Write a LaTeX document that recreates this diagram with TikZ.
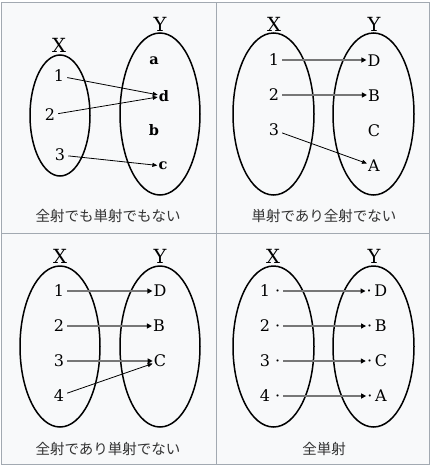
\documentclass[tikz,border=0pt]{standalone}
\usepackage{fontspec}
\setmainfont{DejaVu Serif}
\newfontfamily\jpfont{Noto Sans CJK JP}
\usetikzlibrary{arrows.meta}
\definecolor{panelbg}{HTML}{F8F9FA}
\definecolor{panelline}{HTML}{A2A9B1}
\definecolor{arrowgray}{HTML}{777777}
\definecolor{captext}{HTML}{333333}
\begin{document}
\begin{tikzpicture}[x=1pt,y=-1pt,
  setlabel/.style={font=\fontsize{19.5}{22}\selectfont, inner sep=0pt},
  elem/.style={font=\fontsize{16}{18}\selectfont, inner sep=1pt},
  belem/.style={font=\fontsize{14.5}{17}\selectfont\bfseries, inner sep=1pt},
  setellipse/.style={draw=black, line width=1.5pt},
  caption/.style={font=\jpfont\fontsize{14.5}{17}\selectfont, text=captext, inner sep=0pt},
  garrow/.style={draw=arrowgray, line width=1.8pt, -{Triangle[length=5pt,width=5pt,color=black]}, shorten <=2pt},
  barrow/.style={draw=black, line width=0.8pt, -{Triangle[length=5pt,width=4pt]}, shorten <=2pt}
]
\useasboundingbox (0,0) rectangle (431,466);
\fill[white] (0,0) rectangle (431,466);
\draw[panelline, fill=panelbg, line width=1pt] (1.5,2) rectangle (429.5,464);
\draw[panelline, line width=1pt] (216,2) -- (216,464);
\draw[panelline, line width=1pt] (1.5,233) -- (429.5,233);

% ---------- Panel 1 ----------
\draw[setellipse] (60,115.5) ellipse [x radius=30, y radius=60.5];
\draw[setellipse] (160,114) ellipse [x radius=40, y radius=81];
\node[setlabel] (aX) at (59,45) {X};
\node[setlabel] (aY) at (160,24) {Y};
\node[elem] (a1) at (59,76) {1};
\node[elem] (a2) at (50,115) {2};
\node[elem] (a3) at (60,155) {3};
\node[belem] (aa) at (154,61) {a};
\node[belem] (ad) at (164,96) {d};
\node[belem] (ab) at (154,130) {b};
\node[belem] (ac) at (163,166) {c};
\draw[barrow] (a1) -- (ad);
\draw[barrow] (a2) -- (ad);
\draw[barrow] (a3) -- (ac);
\node[caption] (acap) at (108,216) {全射でも単射でもない};

% ---------- Panel 2 ----------
\draw[setellipse] (273.5,114) ellipse [x radius=40.5, y radius=81];
\draw[setellipse] (373.5,114) ellipse [x radius=40.5, y radius=81];
\node[setlabel] (bX) at (274,24) {X};
\node[setlabel] (bY) at (374,24) {Y};
\node[elem] (b1) at (274,60) {1};
\node[elem] (b2) at (274,95) {2};
\node[elem] (b3) at (274,130) {3};
\node[elem] (bD) at (374,61) {D};
\node[elem] (bB) at (374,96) {B};
\node[elem] (bC) at (374,131) {C};
\node[elem] (bA) at (374,166) {A};
\draw[garrow] (b1) -- (b1 -| bD.west);
\draw[garrow] (b2) -- (b2 -| bB.west);
\draw[barrow] (b3) -- (bA);
\node[caption] (bcap) at (324,216) {単射であり全射でない};

% ---------- Panel 3 ----------
\draw[setellipse] (60,346.5) ellipse [x radius=40, y radius=80.5];
\draw[setellipse] (160,346.5) ellipse [x radius=40, y radius=80.5];
\node[setlabel] (cX) at (60,256) {X};
\node[setlabel] (cY) at (160,256) {Y};
\node[elem] (c1) at (59,291) {1};
\node[elem] (c2) at (59,326) {2};
\node[elem] (c3) at (59,361) {3};
\node[elem] (c4) at (59,396) {4};
\node[elem] (cD) at (160,291) {D};
\node[elem] (cB) at (159,326) {B};
\node[elem] (cC) at (160,361) {C};
\draw[garrow] (c1) -- (c1 -| cD.west);
\draw[garrow] (c2) -- (c2 -| cB.west);
\draw[garrow] (c3) -- (c3 -| cC.west);
\draw[barrow] (c4) -- (cC);
\node[caption] (ccap) at (108,449) {全射であり単射でない};

% ---------- Panel 4 ----------
\draw[setellipse] (273.5,346.5) ellipse [x radius=40.5, y radius=80.5];
\draw[setellipse] (373.5,346.5) ellipse [x radius=40.5, y radius=80.5];
\node[setlabel] (dX) at (273,256) {X};
\node[setlabel] (dY) at (374,256) {Y};
\node[elem] (d1) at (270,291) {1 ·};
\node[elem] (d2) at (270,326) {2 ·};
\node[elem] (d3) at (270,361) {3 ·};
\node[elem] (d4) at (270,396) {4 ·};
\node[elem] (dD) at (377,291) {·\,D};
\node[elem] (dB) at (377,326) {·\,B};
\node[elem] (dC) at (377,361) {·\,C};
\node[elem] (dA) at (377,396) {·\,A};
\draw[garrow] (d1) -- (d1 -| dD.west);
\draw[garrow] (d2) -- (d2 -| dB.west);
\draw[garrow] (d3) -- (d3 -| dC.west);
\draw[garrow] (d4) -- (d4 -| dA.west);
\node[caption] (dcap) at (324,449) {全単射};
\end{tikzpicture}
\end{document}
